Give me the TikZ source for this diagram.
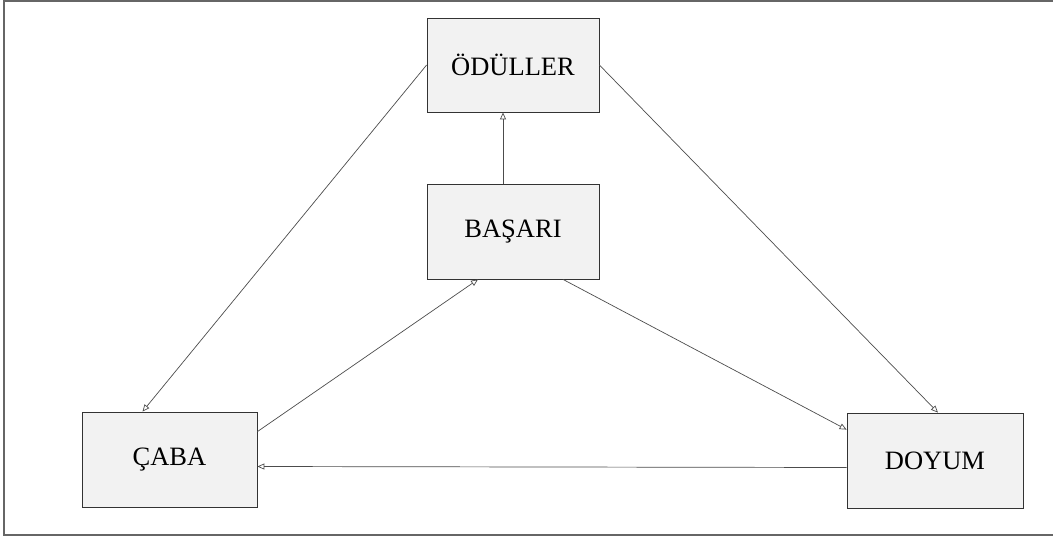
\documentclass[tikz,border=0pt]{standalone}
\usepackage{fontspec}
\setmainfont{Liberation Serif}
\usetikzlibrary{calc,arrows.meta}
\tikzset{
  box/.style={draw=black!80, line width=0.8pt, fill=black!5, minimum width=#1, minimum height=95pt, inner sep=0pt, font=\fontsize{26.5}{30}\selectfont},
  conn/.style={draw=black!70, line width=0.7pt, -{Triangle[open, length=7pt, width=6pt]}},
  frame/.style={draw=black!60, line width=2pt}
}
\begin{document}
\begin{tikzpicture}[x=1pt,y=-1pt]
\useasboundingbox (0,0) rectangle (1053,544);
\draw[frame] (1053,1) -- (4,1) -- (4,535) -- (1053,535);
\node[box=172pt, minimum height=94pt] (od) at (513,65) {ÖDÜLLER};
\node[box=172pt] (bas) at (513,231.5) {BAŞARI};
\node[box=175pt] (caba) at (169.5,459.5) {ÇABA};
\node[box=176pt] (doy) at (935,460.5) {DOYUM};
\draw[conn] (od.west) -- ($(caba.north)+(-27,0)$);
\draw[conn] (od.east) -- ($(doy.north)+(3,0)$);
\draw[conn] ($(bas.north)+(-10,0)$) -- ($(od.south)+(-10,0)$);
\draw[conn] ($(caba.north east)+(0,20)$) -- ($(bas.south)+(-35,0)$);
\draw[conn] ($(bas.south)+(50,0)$) -- ($(doy.north west)+(0,17)$);
\draw[conn] ($(doy.west)+(0,7)$) -- ($(caba.east)+(0,7)$);
\end{tikzpicture}
\end{document}
